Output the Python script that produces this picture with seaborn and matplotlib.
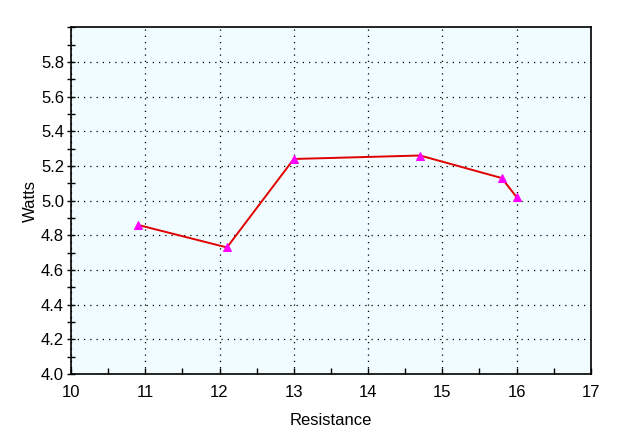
import matplotlib
matplotlib.use("Agg")
import matplotlib.pyplot as plt
import seaborn as sns
import pandas as pd
from matplotlib.ticker import MultipleLocator

# data
resistance = [10.9, 12.1, 13.0, 14.7, 15.8, 16.0]
watts = [4.86, 4.73, 5.24, 5.26, 5.13, 5.02]

df = pd.DataFrame({"Resistance": resistance, "Watts": watts})

sns.set_style("ticks")
plt.rcParams['font.family'] = ['Liberation Sans', 'DejaVu Sans']
plt.rcParams['text.color'] = 'black'
plt.rcParams['axes.labelcolor'] = 'black'
plt.rcParams['xtick.color'] = 'black'
plt.rcParams['ytick.color'] = 'black'

fig = plt.figure(figsize=(6.2, 4.38), dpi=100)
ax = fig.add_axes([0.1145, 0.146, 0.8385, 0.792])
ax.set_facecolor("#F0FCFF")

sns.lineplot(data=df, x="Resistance", y="Watts", ax=ax, color="#E00000",
             linewidth=1.4, sort=False, marker="^", markersize=6,
             markerfacecolor="#FF00FF", markeredgecolor="#FF00FF")

ax.set_xlim(10, 17)
ax.set_ylim(4.0, 6.0)
ax.xaxis.set_major_locator(MultipleLocator(1))
ax.xaxis.set_minor_locator(MultipleLocator(0.5))
ax.yaxis.set_minor_locator(MultipleLocator(0.1))
ax.set_yticks([4.0, 4.2, 4.4, 4.6, 4.8, 5.0, 5.2, 5.4, 5.6, 5.8])
ax.yaxis.set_major_formatter(plt.FuncFormatter(lambda v, p: f"{v:.1f}"))

ax.grid(True, which="major", color="black", linestyle=(0, (1, 4)), linewidth=0.9)
ax.tick_params(axis="x", which="both", direction="in", length=4, width=1,
               labelsize=12, pad=8, color="black", labelcolor="black")
ax.tick_params(axis="y", which="both", direction="inout", length=6, width=1,
               labelsize=12, pad=2, color="black", labelcolor="black")
for s in ax.spines.values():
    s.set_color("black")
    s.set_linewidth(1.2)

ax.set_xlabel("Resistance", fontsize=12, labelpad=9)
ax.set_ylabel("Watts", fontsize=12, labelpad=2)

fig.savefig("out.png", dpi=100, facecolor="white")
